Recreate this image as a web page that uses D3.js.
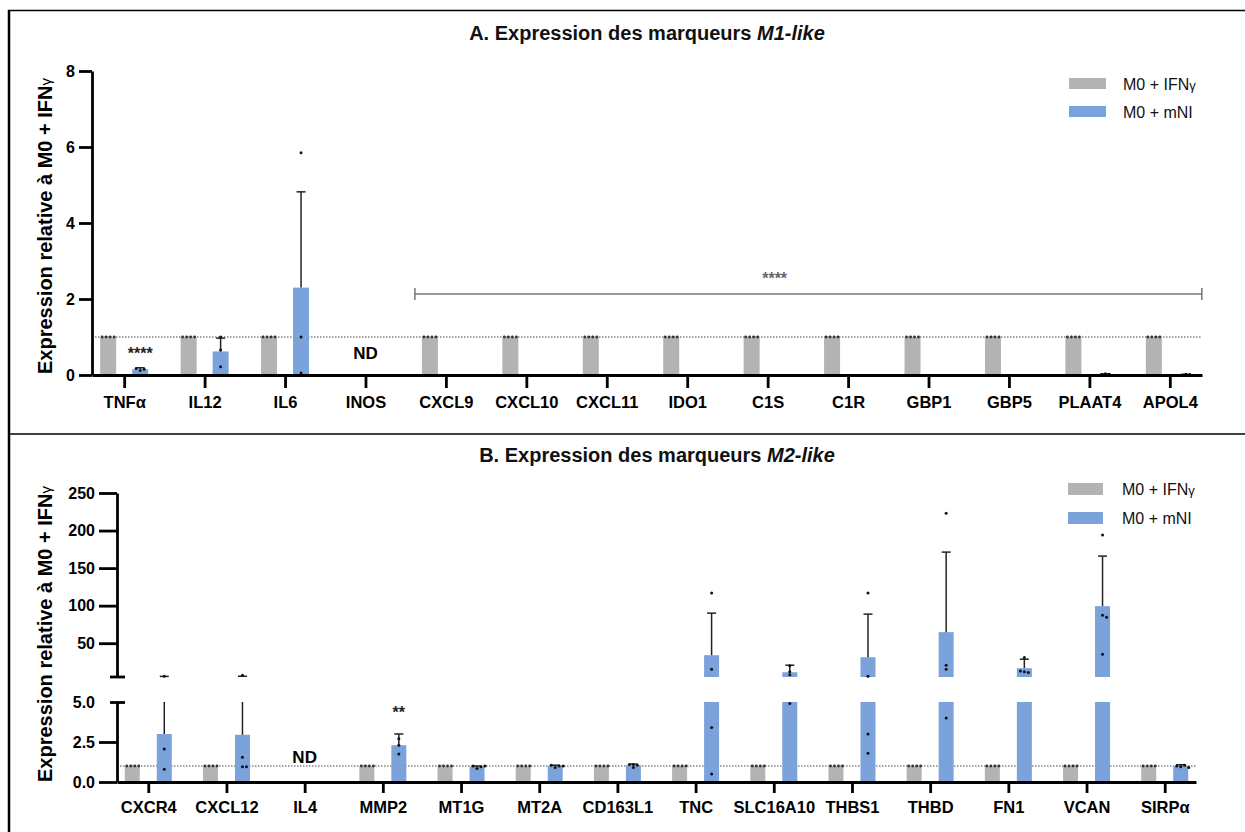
<!DOCTYPE html>
<html>
<head>
<meta charset="utf-8">
<script src="https://cdn.jsdelivr.net/npm/d3@7"></script>
<style>
  body { margin: 0; background: #fff; }
  svg { display: block; font-family: "Liberation Sans", Arial, sans-serif; }
</style>
</head>
<body>
<svg id="chart" width="1245" height="832"></svg>
<script>
// ---- panel A : M1-like markers ----
const catsA = ["TNFα", "IL12", "IL6", "INOS", "CXCL9", "CXCL10", "CXCL11", "IDO1", "C1S", "C1R", "GBP1", "GBP5", "PLAAT4", "APOL4"];
const ctrlA = [1, 1, 1, null, 1, 1, 1, 1, 1, 1, 1, 1, 1, 1];
const mniA  = [0.15, 0.62, 2.3, null, 0.004, 0.004, 0.003, 0.004, 0.005, 0.008, 0.005, 0.004, 0.02, 0.015];
const errA  = [0.19, 0.97, 4.82, null, null, null, null, null, null, null, null, null, 0.03, 0.02];
const ptsA  = [[0.12, 0.15, 0.17], [1.0, 0.66, 0.22], [5.85, 1.0, 0.05], [], [], [], [], [], [], [], [], [], [0.03, 0.02, 0.01], [0.02, 0.01]];
const ticksA = [0, 2, 4, 6, 8];

// ---- panel B : M2-like markers ----
const catsB = ["CXCR4", "CXCL12", "IL4", "MMP2", "MT1G", "MT2A", "CD163L1", "TNC", "SLC16A10", "THBS1", "THBD", "FN1", "VCAN", "SIRPα"];
const ctrlB = [1, 1, null, 1, 1, 1, 1, 1, 1, 1, 1, 1, 1, 1];
const mniB  = [3.0, 2.95, null, 2.3, 0.95, 1.0, 1.05, 34, 11.3, 31.3, 64.7, 16.7, 99.3, 1.0];
const errB  = [5.8, 6.0, null, 3.0, 1.0, 1.05, 1.12, 90, 20.7, 88.7, 171.3, 28.7, 166, 1.08];
const ptsB  = [[2.06, 0.8, 6.1], [1.55, 0.95, 0.95, 7.2], [], [2.7, 2.3, 1.75], [0.85, 0.95, 1.0, 1.0],
               [0.9, 1.0, 1.05, 1.0], [0.9, 1.05, 1.1, 1.1], [117, 15.3, 3.4, 0.5], [20, 8, 4.9, 12],
               [116.7, 6, 3.0, 1.8], [223, 20.7, 15.3, 4.0], [31, 12, 11, 13], [194, 87.3, 84.7, 35.3], [0.95, 1.05, 1.0, 0.9]];
const ticksBLow  = [0, 2.5, 5];
const ticksBHigh = [50, 100, 150, 200, 250];

// control replicates (all normalised to 1)
const ctrlPts = [1, 1, 1, 1];

const series = ["M0 + IFN", "M0 + mNI"];
const colors = ["#b3b3b3", "#7ba2da"];

const svg = d3.select("#chart");

// frame lines
svg.append("line").attr("x1", 8).attr("x2", 1245).attr("y1", 10.5).attr("y2", 10.5).attr("stroke", "#000").attr("stroke-width", 1.5);
svg.append("line").attr("x1", 9).attr("x2", 9).attr("y1", 10).attr("y2", 832).attr("stroke", "#000").attr("stroke-width", 2.5);
svg.append("line").attr("x1", 9).attr("x2", 1245).attr("y1", 434).attr("y2", 434).attr("stroke", "#000").attr("stroke-width", 1.5);

function styleAxis(g, fontSize) {
  g.select(".domain").attr("stroke", "#000").attr("stroke-width", 2.8);
  g.selectAll(".tick line").attr("stroke", "#000").attr("stroke-width", 2.8);
  g.selectAll(".tick text").attr("fill", "#000").attr("font-weight", "bold")
    .attr("font-size", fontSize).attr("font-family", "Liberation Sans, Arial, sans-serif");
}

// spread points that would overlap
function jitter(ys) {
  const placed = [];
  return ys.map(y => {
    let off = 0, k = 1;
    while (placed.some(p => Math.abs(p.y - y) < 3 && Math.abs(p.off - off) < 3)) {
      off = (k % 2 ? 1 : -1) * Math.ceil(k / 2) * 4;
      k++;
    }
    placed.push({y, off});
    return off;
  });
}

function yTitle(cx, cy) {
  const t = svg.append("text")
    .attr("transform", `translate(${cx},${cy}) rotate(-90)`)
    .attr("text-anchor", "middle").attr("dominant-baseline", "middle")
    .attr("font-weight", "bold").attr("font-size", 20);
  t.append("tspan").text("Expression relative à M0 + IFN");
  t.append("tspan").attr("font-weight", "normal").attr("font-size", 15).text("γ");
}

function title(cx, y, main, ital) {
  const t = svg.append("text").attr("x", cx).attr("y", y).attr("text-anchor", "middle")
    .attr("font-weight", "bold").attr("font-size", 20).attr("fill", "#111");
  t.append("tspan").text(main);
  t.append("tspan").attr("font-style", "italic").text(ital);
}

function legend(x, y0, dy, sw, sh) {
  series.forEach((s, i) => {
    const y = y0 + i * dy;
    svg.append("rect").attr("x", x).attr("y", y).attr("width", sw).attr("height", sh).attr("fill", colors[i]);
    const t = svg.append("text").attr("x", x + 54).attr("y", y + sh / 2 + 6).attr("font-size", 16).attr("fill", "#111");
    t.append("tspan").text(s);
    if (i === 0) t.append("tspan").attr("font-size", 13).text("γ");
  });
}

// ================= PANEL A =================
const xA = d3.scalePoint().domain(catsA).range([92, 1202]).padding(0.4);
const yA = d3.scaleLinear().domain([0, 8]).range([375, 71]);

title(647, 40, "A. Expression des marqueurs ", "M1-like");
yTitle(47, 226);

// reference line at 1
svg.append("line").attr("x1", 92).attr("x2", 1202).attr("y1", yA(1)).attr("y2", yA(1))
  .attr("stroke", "#444").attr("stroke-width", 1).attr("stroke-dasharray", "1.5,1.5");

const gA = svg.append("g");
catsA.forEach((c, i) => {
  const cx = xA(c);
  if (ctrlA[i] != null) {
    gA.append("rect").attr("x", cx - 24).attr("width", 16).attr("y", yA(ctrlA[i])).attr("height", yA(0) - yA(ctrlA[i])).attr("fill", colors[0]);
    ctrlPts.forEach((p, j) => gA.append("circle").attr("cx", cx - 22 + j * 4).attr("cy", yA(p)).attr("r", 1.4).attr("fill", "#333"));
  }
  if (mniA[i] != null) {
    const bx = cx + 16;
    gA.append("rect").attr("x", bx - 8).attr("width", 16).attr("y", yA(mniA[i])).attr("height", yA(0) - yA(mniA[i])).attr("fill", colors[1]);
    if (errA[i] != null) {
      gA.append("line").attr("x1", bx).attr("x2", bx).attr("y1", yA(mniA[i])).attr("y2", yA(errA[i])).attr("stroke", "#222").attr("stroke-width", 1.5);
      gA.append("line").attr("x1", bx - 4.5).attr("x2", bx + 4.5).attr("y1", yA(errA[i])).attr("y2", yA(errA[i])).attr("stroke", "#222").attr("stroke-width", 1.5);
    }
    const offs = jitter(ptsA[i].map(p => yA(p)));
    ptsA[i].forEach((p, j) => gA.append("circle").attr("cx", bx + offs[j]).attr("cy", yA(p)).attr("r", 1.5).attr("fill", "#111"));
  }
});

const axYA = svg.append("g").attr("transform", "translate(92,0)")
  .call(d3.axisLeft(yA).tickValues(ticksA).tickSize(13).tickSizeOuter(0).tickPadding(4));
styleAxis(axYA, 16);
const axXA = svg.append("g").attr("transform", `translate(0,${yA(0)})`)
  .call(d3.axisBottom(xA).tickSize(13).tickSizeOuter(0).tickPadding(8));
styleAxis(axXA, 16.5);

// annotations A
svg.append("text").attr("x", xA("TNFα") + 16).attr("y", yA(0.42)).attr("text-anchor", "middle")
  .attr("font-weight", "bold").attr("font-size", 16).attr("fill", "#222").text("****");
svg.append("text").attr("x", xA("INOS")).attr("y", yA(0.42)).attr("text-anchor", "middle")
  .attr("font-weight", "bold").attr("font-size", 17).text("ND");
const brY = yA(2.13), brX1 = xA("CXCL9") - 31, brX2 = xA("APOL4") + 32;
svg.append("path").attr("d", `M${brX1},${brY - 6}V${brY + 6}M${brX1},${brY}H${brX2}M${brX2},${brY - 6}V${brY + 6}`)
  .attr("fill", "none").attr("stroke", "#777").attr("stroke-width", 1.5);
svg.append("text").attr("x", xA("C1S") + 7).attr("y", yA(2.4)).attr("text-anchor", "middle")
  .attr("font-weight", "bold").attr("font-size", 16).attr("fill", "#666").text("****");

legend(1069, 78, 28, 37, 11);

// ================= PANEL B =================
const xB = d3.scalePoint().domain(catsB).range([117, 1196]).padding(0.4);
const yLow = d3.scaleLinear().domain([0, 5]).range([782, 702]);
const yHigh = d3.scaleLinear().domain([5, 250]).range([677, 493]);
const yB = v => v <= 5 ? yLow(v) : yHigh(v);

title(657, 462, "B. Expression des marqueurs ", "M2-like");
yTitle(47, 634);

svg.append("line").attr("x1", 117).attr("x2", 1196).attr("y1", yLow(1)).attr("y2", yLow(1))
  .attr("stroke", "#444").attr("stroke-width", 1).attr("stroke-dasharray", "1.5,1.5");

const gB = svg.append("g");
function errLine(x, y1, y2) {
  gB.append("line").attr("x1", x).attr("x2", x).attr("y1", y1).attr("y2", y2).attr("stroke", "#222").attr("stroke-width", 1.5);
}
catsB.forEach((c, i) => {
  const cx = xB(c);
  if (ctrlB[i] != null) {
    gB.append("rect").attr("x", cx - 23.5).attr("width", 15).attr("y", yLow(ctrlB[i])).attr("height", yLow(0) - yLow(ctrlB[i])).attr("fill", colors[0]);
    ctrlPts.forEach((p, j) => gB.append("circle").attr("cx", cx - 21.5 + j * 4).attr("cy", yLow(p)).attr("r", 1.4).attr("fill", "#333"));
  }
  const v = mniB[i];
  if (v != null) {
    const bx = cx + 16;
    const low = Math.min(v, 5);
    gB.append("rect").attr("x", bx - 7.5).attr("width", 15).attr("y", yLow(low)).attr("height", yLow(0) - yLow(low)).attr("fill", colors[1]);
    if (v > 5) {
      gB.append("rect").attr("x", bx - 7.5).attr("width", 15).attr("y", yHigh(v)).attr("height", yHigh(5) - yHigh(v)).attr("fill", colors[1]);
    }
    const e = errB[i];
    if (e != null) {
      if (e <= 5) {
        errLine(bx, yLow(v), yLow(e));
      } else if (v <= 5) {
        errLine(bx, yLow(v), yLow(5));
        errLine(bx, yHigh(5), yHigh(e));
      } else {
        errLine(bx, yHigh(v), yHigh(e));
      }
      const ey = yB(e);
      gB.append("line").attr("x1", bx - 4.5).attr("x2", bx + 4.5).attr("y1", ey).attr("y2", ey).attr("stroke", "#222").attr("stroke-width", 1.5);
    }
    const offs = jitter(ptsB[i].map(p => yB(p)));
    ptsB[i].forEach((p, j) => gB.append("circle").attr("cx", bx + offs[j]).attr("cy", yB(p)).attr("r", 1.5).attr("fill", "#111"));
  }
});

const axLow = svg.append("g").attr("transform", "translate(117,0)")
  .call(d3.axisLeft(yLow).tickValues(ticksBLow).tickFormat(d3.format(".1f")).tickSize(18).tickSizeOuter(0).tickPadding(4));
styleAxis(axLow, 16);
axLow.selectAll(".tick").filter(d => d === 5).select("line").attr("x1", -7).attr("x2", 8);

const axHigh = svg.append("g").attr("transform", "translate(117,0)")
  .call(d3.axisLeft(yHigh).tickValues(ticksBHigh).tickSize(18).tickSizeOuter(0).tickPadding(4));
styleAxis(axHigh, 16);
axHigh.append("line").attr("x1", -7).attr("x2", 8).attr("y1", yHigh(5)).attr("y2", yHigh(5)).attr("stroke", "#000").attr("stroke-width", 2.8);

const axXB = svg.append("g").attr("transform", `translate(0,${yLow(0)})`)
  .call(d3.axisBottom(xB).tickSize(11).tickSizeOuter(0).tickPadding(8));
styleAxis(axXB, 16.5);

svg.append("text").attr("x", xB("IL4")).attr("y", yLow(1.19)).attr("text-anchor", "middle")
  .attr("font-weight", "bold").attr("font-size", 17).text("ND");
svg.append("text").attr("x", xB("MMP2") + 16).attr("y", yLow(4.0)).attr("text-anchor", "middle")
  .attr("font-weight", "bold").attr("font-size", 16).attr("fill", "#222").text("**");

legend(1068, 483, 29, 35, 12);
</script>
</body>
</html>
